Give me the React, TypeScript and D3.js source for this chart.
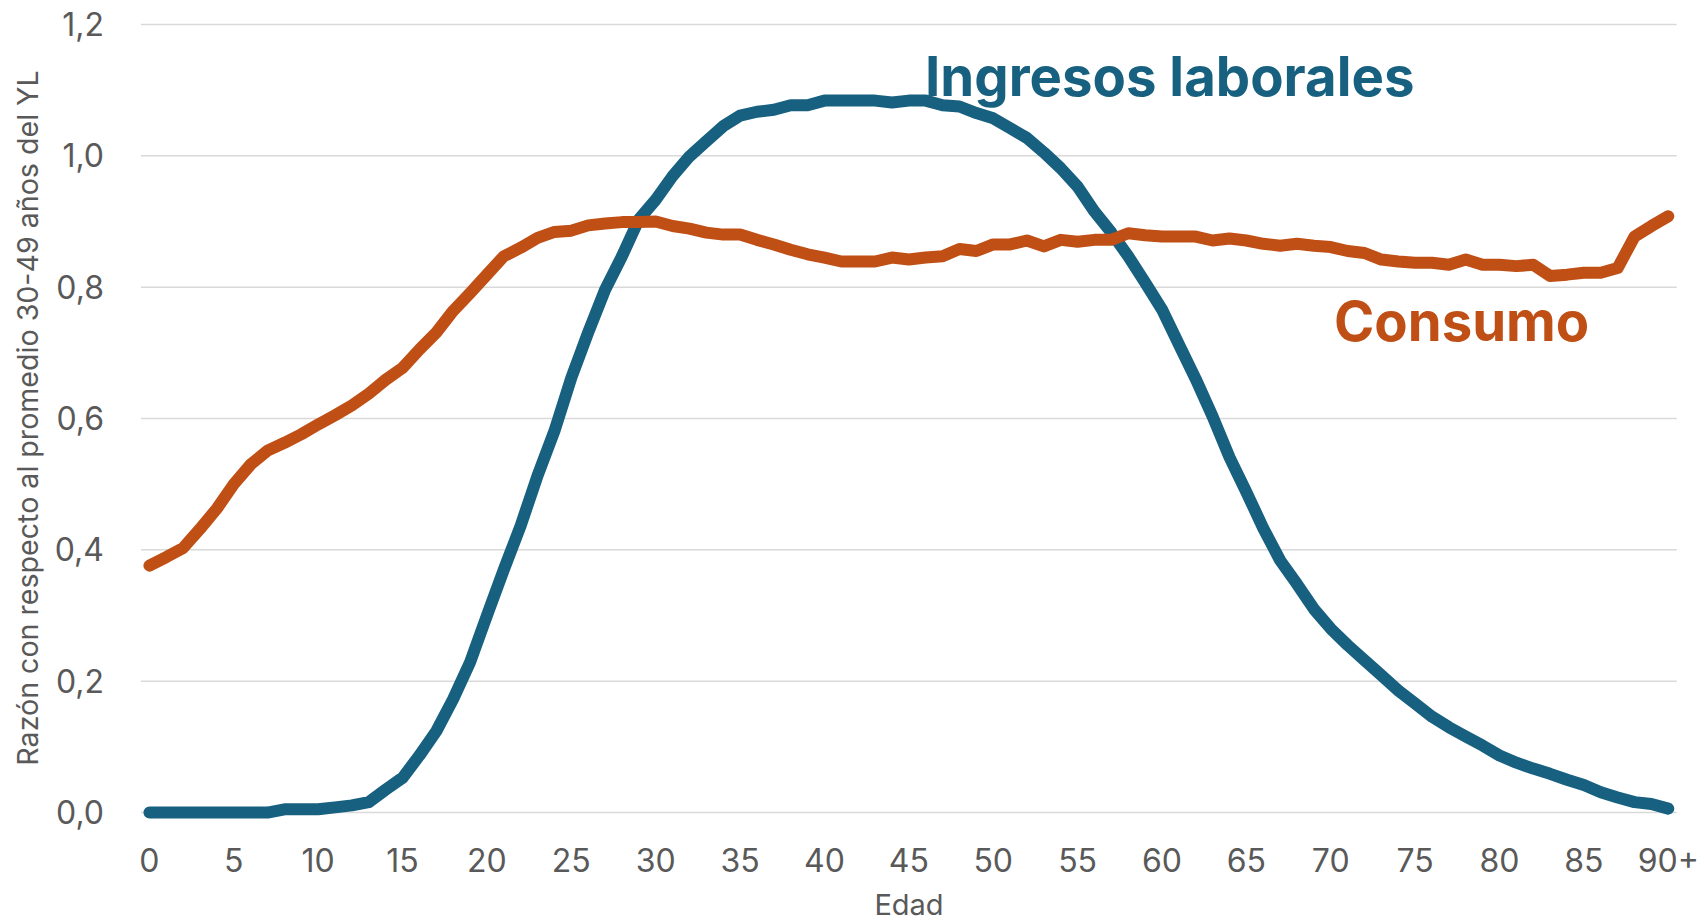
import React, { useEffect } from "react";
import * as d3 from "d3";

const ages: string[] = [...Array.from({ length: 90 }, (_, i) => String(i)), "90+"];

const ingresos: number[] = [
  0, 0, 0, 0, 0, 0, 0, 0, 0.005, 0.005,
  0.005, 0.008, 0.011, 0.016, 0.035, 0.053, 0.087, 0.124, 0.173, 0.229,
  0.3, 0.37, 0.437, 0.513, 0.581, 0.662, 0.731, 0.796, 0.847, 0.903,
  0.933, 0.969, 0.999, 1.022, 1.045, 1.061, 1.067, 1.07, 1.077, 1.077,
  1.084, 1.084, 1.084, 1.084, 1.081, 1.084, 1.084, 1.077, 1.075, 1.065,
  1.057, 1.042, 1.027, 1.005, 0.981, 0.953, 0.915, 0.883, 0.847, 0.807,
  0.766, 0.713, 0.66, 0.603, 0.541, 0.488, 0.433, 0.384, 0.348, 0.31,
  0.28, 0.255, 0.232, 0.209, 0.186, 0.166, 0.146, 0.13, 0.116, 0.102,
  0.087, 0.076, 0.067, 0.059, 0.05, 0.042, 0.031, 0.023, 0.016, 0.013,
  0.006,
];

const consumo: number[] = [
  0.376, 0.389, 0.403, 0.432, 0.463, 0.5, 0.53, 0.551, 0.563, 0.576,
  0.591, 0.605, 0.62, 0.638, 0.659, 0.677, 0.705, 0.731, 0.764, 0.791,
  0.819, 0.847, 0.86, 0.875, 0.884, 0.886, 0.894, 0.897, 0.899, 0.899,
  0.9, 0.893, 0.889, 0.883, 0.88, 0.88, 0.872, 0.865, 0.857, 0.85,
  0.845, 0.839, 0.839, 0.839, 0.845, 0.842, 0.845, 0.847, 0.858, 0.855,
  0.865, 0.865, 0.871, 0.862, 0.872, 0.869, 0.872, 0.872, 0.882, 0.879,
  0.877, 0.877, 0.877, 0.871, 0.874, 0.871, 0.866, 0.863, 0.866, 0.863,
  0.861, 0.855, 0.852, 0.842, 0.839, 0.837, 0.837, 0.834, 0.842, 0.834,
  0.834, 0.832, 0.834, 0.817, 0.819, 0.822, 0.822, 0.829, 0.877, 0.893,
  0.908,
];

const yTicks: number[] = [0, 0.2, 0.4, 0.6, 0.8, 1.0, 1.2];
const xTickLabels: string[] = ["0", "5", "10", "15", "20", "25", "30", "35", "40", "45", "50", "55", "60", "65", "70", "75", "80", "85", "90+"];

const W = 1706;
const H = 923;
const BLUE = "#17607F";
const ORANGE = "#C04F15";
const GREY = "#595959";
const FONT = "Inter, 'Noto Sans', sans-serif";

export default function App() {
  useEffect(() => {
    document.body.style.margin = "0";
    document.body.style.overflow = "hidden";
  }, []);

  const x = d3.scaleBand<string>().domain(ages).range([141, 1676.7]).paddingInner(0).paddingOuter(0);
  const y = d3.scaleLinear().domain([0, 1.2]).range([812.6, 24.4]);
  const cx = (a: string) => (x(a) as number) + x.bandwidth() / 2;

  const line = d3
    .line<number>()
    .x((_, i) => cx(ages[i]))
    .y((d) => y(d));

  const fmt = (v: number) => d3.format(".1f")(v).replace(".", ",");

  return (
    <svg width={W} height={H} style={{ position: "absolute", left: 0, top: 0, background: "#fff" }} fontFamily={FONT}>
      <rect x={0} y={0} width={W} height={H} fill="#fff" />
      {yTicks.map((t) => (
        <g key={t}>
          <line x1={141} x2={1676.7} y1={y(t)} y2={y(t)} stroke="#D9D9D9" strokeWidth={1.5} />
          <text x={104} y={y(t) + 11.6} textAnchor="end" fontSize={32} fill={GREY}>
            {fmt(t)}
          </text>
        </g>
      ))}
      {xTickLabels.map((lab) => (
        <text key={lab} x={cx(lab)} y={872} textAnchor="middle" fontSize={32} fill={GREY}>
          {lab}
        </text>
      ))}
      <text x={909} y={915} textAnchor="middle" fontSize={29} fill={GREY}>
        Edad
      </text>
      <text transform={`translate(38, 418) rotate(-90)`} textAnchor="middle" fontSize={28.6} fill={GREY}>
        Razón con respecto al promedio 30-49 años del YL
      </text>
      <path d={line(ingresos) || ""} fill="none" stroke={BLUE} strokeWidth={12} strokeLinejoin="round" strokeLinecap="round" />
      <path d={line(consumo) || ""} fill="none" stroke={ORANGE} strokeWidth={12} strokeLinejoin="round" strokeLinecap="round" />
      <text x={925} y={95.7} fontSize={54.5} fontWeight={700} fill={BLUE}>
        Ingresos laborales
      </text>
      <text x={1334} y={341} fontSize={54.5} fontWeight={700} fill={ORANGE}>
        Consumo
      </text>
    </svg>
  );
}
